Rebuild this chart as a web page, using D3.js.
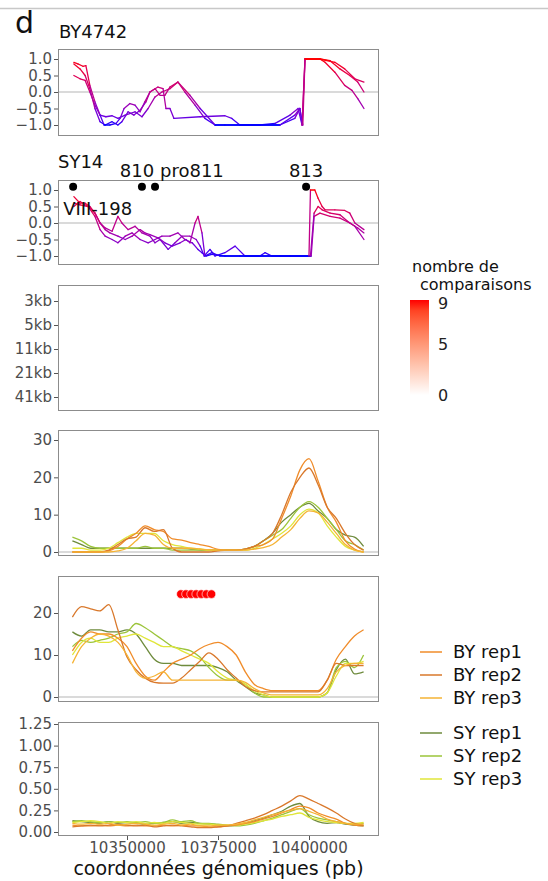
<!DOCTYPE html>
<html><head><meta charset="utf-8">
<script src="https://cdn.jsdelivr.net/npm/d3@7"></script>
<style>body{margin:0;background:#fff;} svg{display:block;font-family:"DejaVu Sans",sans-serif;}</style>
</head><body><svg id="chart" width="548" height="881"></svg>
<script>
// ---------- DATA (positions in kb) ----------
const by4742_s1 = [[10335.4,0.9],[10336.5,0.85],[10337.9,0.78],[10338.7,0.8],[10339.8,0.2],[10341.2,-0.3],[10342.6,-0.7],[10343.7,-1.0],[10345.3,-1.0],[10347.0,-0.95],[10348.1,-0.8],[10349.2,-0.5],[10350.8,-0.35],[10352.2,-0.4],[10353.6,-0.6],[10354.9,-0.3],[10356.3,0.0],[10357.7,0.1],[10359.1,-0.1],[10360.4,-0.1],[10361.8,0.15],[10364.0,0.3],[10367.3,-0.1],[10370.1,-0.5],[10374.2,-1.0],[10381.0,-1.0],[10392.0,-1.0],[10396.1,-0.7],[10397.5,-0.5],[10398.3,-1.0],[10398.9,1.0],[10403.0,1.0],[10405.8,0.95],[10408.5,0.7],[10411.2,0.5],[10413.4,0.3],[10415.1,0.0]];
const by4742_s2 = [[10335.4,0.5],[10337.1,0.4],[10338.5,0.35],[10339.8,0.0],[10341.2,-0.4],[10342.6,-0.7],[10344.2,-0.75],[10345.9,-0.72],[10347.5,-0.8],[10349.5,-0.7],[10352.2,-0.6],[10354.1,-0.75],[10355.8,-0.5],[10357.7,-0.15],[10359.6,0.0],[10361.8,0.1],[10364.0,0.3],[10365.9,0.0],[10368.7,-0.4],[10371.4,-0.8],[10374.2,-1.0],[10376.9,-1.0],[10386.5,-1.0],[10390.7,-0.95],[10394.8,-0.7],[10397.0,-0.5],[10398.1,-1.0],[10398.9,1.0],[10403.0,1.0],[10404.4,0.9],[10407.1,0.6],[10409.8,0.2],[10411.8,0.05],[10413.4,-0.2],[10415.1,-0.5]];
const by4742_s3 = [[10335.4,0.85],[10337.1,0.7],[10338.5,0.5],[10339.8,0.1],[10341.2,-0.5],[10342.6,-0.9],[10344.0,-1.0],[10345.9,-0.9],[10347.5,-1.0],[10348.6,-0.9],[10350.3,-0.6],[10351.9,-0.7],[10353.6,-0.55],[10355.2,-0.3],[10356.3,0.0],[10358.5,0.15],[10359.9,0.1],[10360.7,-0.5],[10361.8,-0.5],[10362.9,-0.8],[10370.1,-0.75],[10376.9,-0.72],[10378.8,-0.8],[10381.0,-1.0],[10386.5,-1.0],[10392.0,-1.0],[10396.1,-0.8],[10397.5,-0.5],[10398.1,-1.0],[10398.9,1.0],[10403.0,1.0],[10407.1,0.9],[10409.8,0.7],[10412.6,0.4],[10415.1,0.3]];

const sy14_s1 = [[10335.4,0.8],[10337.1,0.6],[10338.5,0.6],[10339.8,0.5],[10341.2,0.3],[10342.6,0.0],[10344.0,-0.2],[10345.3,-0.3],[10347.5,-0.4],[10349.5,-0.5],[10351.4,-0.4],[10353.6,-0.2],[10354.9,-0.3],[10356.3,-0.35],[10358.5,-0.45],[10360.4,-0.6],[10362.4,-0.7],[10364.6,-0.6],[10366.2,-0.5],[10367.3,-0.6],[10368.7,0.0],[10369.5,0.2],[10370.6,-0.3],[10371.4,-1.0],[10373.3,-0.9],[10375.5,-1.0],[10381.0,-1.0],[10392.0,-1.0],[10400.0,-1.0],[10400.4,1.0],[10401.6,1.0],[10402.5,0.75],[10403.6,0.5],[10404.4,0.4],[10407.1,0.4],[10409.8,0.38],[10411.2,0.3],[10412.6,0.0],[10415.1,-0.2]];
const sy14_s2 = [[10335.4,0.6],[10337.1,0.55],[10339.3,0.5],[10341.2,0.3],[10342.6,0.0],[10344.0,-0.15],[10345.9,-0.25],[10347.5,0.2],[10348.6,0.0],[10350.3,-0.2],[10352.2,-0.1],[10354.1,-0.3],[10356.3,-0.4],[10357.7,-0.6],[10359.1,-0.5],[10361.3,-0.8],[10363.2,-0.6],[10365.1,-0.4],[10367.3,-0.4],[10369.0,-0.5],[10370.1,-0.7],[10371.2,-1.0],[10372.8,-0.8],[10374.2,-1.0],[10376.9,-0.9],[10379.7,-0.7],[10382.4,-1.0],[10386.5,-1.0],[10387.9,-0.9],[10389.8,-1.0],[10394.8,-1.0],[10400.4,-1.0],[10401.4,0.3],[10402.5,0.5],[10403.6,0.4],[10405.8,0.3],[10408.5,0.25],[10410.6,0.05],[10412.6,-0.1],[10415.1,-0.5]];
const sy14_s3 = [[10335.4,0.5],[10337.1,0.65],[10339.3,0.5],[10341.2,0.2],[10342.6,-0.2],[10344.0,-0.4],[10345.9,-0.5],[10347.5,-0.6],[10349.5,-0.4],[10351.4,-0.3],[10353.6,-0.5],[10355.8,-0.6],[10357.7,-0.5],[10359.6,-0.4],[10361.8,-0.4],[10364.0,-0.3],[10365.9,-0.5],[10367.9,-0.6],[10369.5,-0.8],[10370.6,-0.9],[10371.7,-1.0],[10373.3,-0.95],[10376.9,-1.0],[10394.8,-1.0],[10400.6,-1.0],[10401.4,0.2],[10403.0,0.3],[10405.8,0.2],[10408.5,0.15],[10411.2,0.0],[10413.4,-0.15],[10415.1,-0.3]];

const markerKb = [10335.2, 10354.1, 10357.7, 10399.2];
const markerLabels = ["VIII-198", "810", "pro811", "813"];

const sizeLabels = ["3kb", "5kb", "11kb", "21kb", "41kb"];

const gridKb = [10335,10337.5,10340,10342.5,10345,10347.5,10350,10352.5,10355,10357.5,10360,10362.5,10365,10367.5,10370,10372.5,10375,10377.5,10380,10382.5,10385,10387.5,10390,10392.5,10395,10397.5,10400,10402.5,10405,10407.5,10410,10412.5,10415];

const seriesNames = ["BY rep1","BY rep2","BY rep3","SY rep1","SY rep2","SY rep3"];
const seriesColors = ["#F08C2A","#D9782B","#F5B335","#6E8B3D","#9BC43A","#E0E63A"];

const p4_by1 = [0,0,0,0,0.3,1.5,3.5,5,7,6,5.5,3.5,3.2,2.5,2,1.5,0.7,0.5,0.5,0.8,1.5,2,3.5,9,15,22,25,19,12,8,3,0.8,0];
const p4_by2 = [0,0,0,0,0.5,2,3.5,4,6.5,5.5,6,1,0,0,0,0,0.3,0.5,0.5,0.8,1.5,3,5,10,16,20,22.5,18,12,9,5,2,0.5];
const p4_by3 = [0,0,0,0,0,0.3,1,3,5,4.5,2,1,1,1,0.8,0.6,0.5,0.5,0.5,0.5,0.8,1.2,2,4,6,9,11,10.5,8,5,2,0.5,0];
const p4_sy1 = [3,2,1,1,1,1,1,1,1,1,1,1,1,0.8,0.6,0.5,0.5,0.5,0.5,0.8,1.5,3,5,8,10,12,13,11,9,6,4.5,4,1.5];
const p4_sy2 = [4,3,1.5,1,1,1,1,1,1.5,1,1,0.5,0.5,0.5,0.5,0.5,0.5,0.5,0.5,0.8,1.5,3,4.5,6,9,12,13.5,12,9,6,3,2,0.5];
const p4_sy3 = [1,1,0.5,0.5,1,2.5,4,5,5,5,3,2,1.5,1,0.8,0.5,0.5,0.5,0.5,0.5,1,2,3.5,5,7,10,11.5,10.5,7,4,1.5,0.5,0];

const p5_by1 = [11,14,15.5,15,15,14,12,8,5,4,6,8,9,10,11.5,12.5,13,12,10,6,3,2,1.5,1.5,1.5,1.5,1.5,1.5,4,9,12,14.5,16];
const p5_by2 = [19,21.5,21,20.5,22,16,9.5,6.5,4.5,3.5,3.3,3.3,4.5,6.5,8.5,10.5,9,6.5,4.5,2.5,1.5,1.2,1.2,1.2,1.2,1.2,1.2,1.2,4,8,7.5,7.5,7.5];
const p5_by3 = [8,12,14,15,14.5,13,10,6,4.5,5,6,4,4,4,4,4,4,4,4,3.5,2,1,0.5,0.5,0.5,0.5,0.5,0.5,2,6,7.5,8,8];
const p5_sy1 = [15.5,14.5,16,16,15.5,15.5,16,15,12,9,8,8,7.5,7.5,7.5,7.5,7,6,4,2.5,1,0.5,0,0,0,0,0,0,1,6.5,9,5.5,6];
const p5_sy2 = [12,13.5,13,13.5,14,15,15.5,17.5,16.5,15,13.5,12,11.5,11,9.5,7,5,4,4,3,1,0,0,0,0,0,0,0,1,7,8.5,7,10];
const p5_sy3 = [10,13,14,13,13,14,14.5,15,14,13,12,12,11,10,9,8,6,4.5,4,3,1.5,0.5,0,0,0,0,0,0,1,5,8,8,8.5];
const p5_dotsKb = [10364.8,10366.2,10367.6,10369,10370.4,10371.8,10373.2];
const p5_dotsVal = [24.5,24.5,24.5,24.5,24.5,24.5,24.5];

const p6_by1 = [0.08,0.07,0.07,0.08,0.07,0.08,0.07,0.08,0.07,0.07,0.08,0.07,0.08,0.07,0.07,0.06,0.06,0.07,0.08,0.1,0.12,0.15,0.18,0.22,0.26,0.3,0.28,0.22,0.18,0.15,0.1,0.08,0.07];
const p6_by2 = [0.06,0.07,0.08,0.07,0.08,0.09,0.08,0.07,0.08,0.06,0.07,0.08,0.07,0.06,0.05,0.05,0.06,0.07,0.1,0.13,0.16,0.2,0.25,0.3,0.36,0.42,0.38,0.33,0.28,0.22,0.15,0.1,0.08];
const p6_by3 = [0.1,0.09,0.1,0.09,0.1,0.08,0.09,0.1,0.09,0.08,0.09,0.1,0.08,0.09,0.07,0.07,0.08,0.08,0.09,0.11,0.14,0.17,0.2,0.23,0.25,0.27,0.24,0.2,0.15,0.12,0.1,0.09,0.09];
const p6_sy1 = [0.13,0.12,0.11,0.1,0.12,0.1,0.11,0.1,0.09,0.1,0.11,0.12,0.1,0.11,0.1,0.09,0.08,0.07,0.08,0.1,0.13,0.16,0.2,0.24,0.3,0.33,0.18,0.12,0.1,0.11,0.09,0.08,0.07];
const p6_sy2 = [0.12,0.13,0.12,0.11,0.12,0.11,0.12,0.11,0.12,0.1,0.11,0.14,0.12,0.13,0.1,0.1,0.09,0.08,0.07,0.08,0.1,0.13,0.16,0.2,0.24,0.27,0.2,0.16,0.14,0.12,0.1,0.09,0.1];
const p6_sy3 = [0.11,0.12,0.13,0.12,0.1,0.12,0.11,0.12,0.1,0.11,0.1,0.12,0.11,0.1,0.09,0.09,0.08,0.08,0.08,0.09,0.11,0.13,0.15,0.18,0.2,0.22,0.17,0.14,0.12,0.11,0.1,0.1,0.11];

const xTicks = [10350000, 10375000, 10400000];
const ticksP1 = [-1, -0.5, 0, 0.5, 1];
const ticksP4 = [0, 10, 20, 30];
const ticksP5 = [0, 10, 20];
const ticksP6 = [0, 0.25, 0.5, 0.75, 1, 1.25];
const colorbarTicks = [0, 5, 9];

// ---------- LAYOUT ----------
const svg = d3.select("#chart");
const L = 58, R = 379;
const x = d3.scaleLinear().domain([10350000, 10400000]).range([127, 309]);
const TICK_FONT = 15, TICK_COL = "#4d4d4d";

svg.append("line").attr("x1",0).attr("x2",548).attr("y1",8.5).attr("y2",8.5).attr("stroke","#c8c8c8").attr("stroke-width",1.5);
svg.append("text").attr("x",15).attr("y",33).attr("font-size",30).attr("fill","#111").text("d");

function frame(top, bottom){
  svg.append("rect").attr("x",L+0.5).attr("y",top+0.5).attr("width",R-L-1).attr("height",bottom-top-1)
    .attr("fill","none").attr("stroke","#8c8c8c").attr("stroke-width",1);
}
function yAxis(scale, ticks, fmt){
  const g = svg.append("g").attr("transform",`translate(${L},0)`)
    .call(d3.axisLeft(scale).tickValues(ticks).tickFormat(fmt).tickSize(4).tickPadding(2));
  g.select(".domain").remove();
  g.selectAll("line").attr("stroke","#555");
  g.selectAll("text").attr("font-size",TICK_FONT).attr("fill",TICK_COL).attr("font-family","DejaVu Sans");
}
function hzero(scale){
  svg.append("line").attr("x1",L+1).attr("x2",R-1).attr("y1",scale(0)).attr("y2",scale(0))
    .attr("stroke","#b5b5b5").attr("stroke-width",1);
}

const gradCol = d3.scaleLinear().domain([-1,1]).range(["#0000ff","#ff0000"]).interpolate(d3.interpolateLab);
function gradientLine(series, y){
  const g = svg.append("g");
  for (let i=0;i<series.length-1;i++){
    const a = series[i], b = series[i+1];
    g.append("line").attr("x1",x(a[0]*1000)).attr("y1",y(a[1])).attr("x2",x(b[0]*1000)).attr("y2",y(b[1]))
      .attr("stroke",gradCol((a[1]+b[1])/2)).attr("stroke-width",1.3).attr("stroke-linecap","round");
  }
}

// Panel 1
const y1 = d3.scaleLinear().domain([-1,1]).range([125,59]);
svg.append("text").attr("x",59).attr("y",38).attr("font-size",18).attr("fill","#111").text("BY4742");
hzero(y1);
[by4742_s3, by4742_s2, by4742_s1].forEach(s=>gradientLine(s,y1));
frame(49,136);
yAxis(y1, ticksP1, d3.format(".1f"));

// Panel 2
const y2 = d3.scaleLinear().domain([-1,1]).range([256,190]);
svg.append("text").attr("x",58).attr("y",168).attr("font-size",18).attr("fill","#111").text("SY14");
hzero(y2);
[sy14_s3, sy14_s2, sy14_s1].forEach(s=>gradientLine(s,y2));
frame(180,265);
yAxis(y2, ticksP1, d3.format(".1f"));
svg.selectAll(".marker").data(markerKb).enter().append("circle")
  .attr("cx",d=>x(d*1000)).attr("cy",y2(1.1)).attr("r",4).attr("fill","#000");
const labelDx = [-10, -5, 5, 0], labelDy = [28, -10, -10, -10], labelAnchor = ["start","middle","start","middle"];
markerKb.forEach((d,i)=>{
  svg.append("text").attr("x",x(d*1000)+labelDx[i]).attr("y",y2(1.1)+labelDy[i])
    .attr("text-anchor",labelAnchor[i]).attr("font-size",18).attr("fill","#111").text(markerLabels[i]);
});

// Panel 3
const y3 = d3.scalePoint().domain(sizeLabels).range([301,397]);
frame(285,411);
yAxis(y3, sizeLabels, d=>d);

// Colorbar legend
svg.append("text").attr("x",412).attr("y",272).attr("font-size",16).attr("fill","#111").text("nombre de");
svg.append("text").attr("x",420).attr("y",290).attr("font-size",16).attr("fill","#111").text("comparaisons");
const cb = d3.scaleLinear().domain([0,9]).range([395,303]);
const defs = svg.append("defs");
const lg = defs.append("linearGradient").attr("id","cbar").attr("x1",0).attr("x2",0).attr("y1",1).attr("y2",0);
const cbCol = d3.scaleLinear().domain([0,9]).range(["#ffffff","#ff0000"]).interpolate(d3.interpolateLab);
d3.range(0,10).forEach(v=>lg.append("stop").attr("offset",v/9).attr("stop-color",cbCol(v)));
svg.append("rect").attr("x",410).attr("y",cb(9)-3).attr("width",19).attr("height",cb(0)-cb(9)+3).attr("fill","url(#cbar)");
colorbarTicks.forEach(t=>{
  svg.append("text").attr("x",438).attr("y",cb(t)).attr("dy","0.36em").attr("font-size",16).attr("fill","#222").text(t);
});

// Line panels
function linePanel(data, y){
  const line = d3.line().x((d,i)=>x(gridKb[i]*1000)).y(d=>y(d)).curve(d3.curveMonotoneX);
  const order = [3,4,5,0,1,2];
  order.forEach(k=>{
    svg.append("path").datum(data[k]).attr("d",line).attr("fill","none")
      .attr("stroke",seriesColors[k]).attr("stroke-width",1.3);
  });
}

// Panel 4
const y4 = d3.scaleLinear().domain([0,30]).range([552,440]);
hzero(y4);
linePanel([p4_by1,p4_by2,p4_by3,p4_sy1,p4_sy2,p4_sy3], y4);
frame(430,556);
yAxis(y4, ticksP4, d3.format("d"));

// Panel 5
const y5 = d3.scaleLinear().domain([0,20]).range([697,613]);
hzero(y5);
linePanel([p5_by1,p5_by2,p5_by3,p5_sy1,p5_sy2,p5_sy3], y5);
svg.selectAll(".rdot").data(p5_dotsKb).enter().append("circle")
  .attr("cx",d=>x(d*1000)).attr("cy",(d,i)=>y5(p5_dotsVal[i])).attr("r",4.3)
  .attr("fill","#ff0000").attr("stroke","#ffffff").attr("stroke-width",0.6);
frame(576,702);
yAxis(y5, ticksP5, d3.format("d"));

// Panel 6
const y6 = d3.scaleLinear().domain([0,1.25]).range([832,724]);
linePanel([p6_by1,p6_by2,p6_by3,p6_sy1,p6_sy2,p6_sy3], y6);
frame(722,836);
yAxis(y6, ticksP6, d3.format(".2f"));

// X axis
const gx = svg.append("g").attr("transform","translate(0,836)")
  .call(d3.axisBottom(x).tickValues(xTicks).tickFormat(d3.format("d")).tickSize(4).tickPadding(2));
gx.select(".domain").remove();
gx.selectAll("line").attr("stroke","#555");
gx.selectAll("text").attr("font-size",TICK_FONT).attr("fill",TICK_COL).attr("font-family","DejaVu Sans");
svg.append("text").attr("x",(L+R)/2).attr("y",875).attr("text-anchor","middle").attr("font-size",19).attr("fill","#111")
  .text("coordonnées génomiques (pb)");

// Legend for replicates
const legY = [652,675,698,733,756,779];
seriesNames.forEach((n,i)=>{
  svg.append("line").attr("x1",420).attr("x2",442).attr("y1",legY[i]).attr("y2",legY[i])
    .attr("stroke",seriesColors[i]).attr("stroke-width",1.5);
  svg.append("text").attr("x",453).attr("y",legY[i]).attr("dy","0.36em").attr("font-size",18).attr("fill","#111").text(n);
});
</script></body></html>
